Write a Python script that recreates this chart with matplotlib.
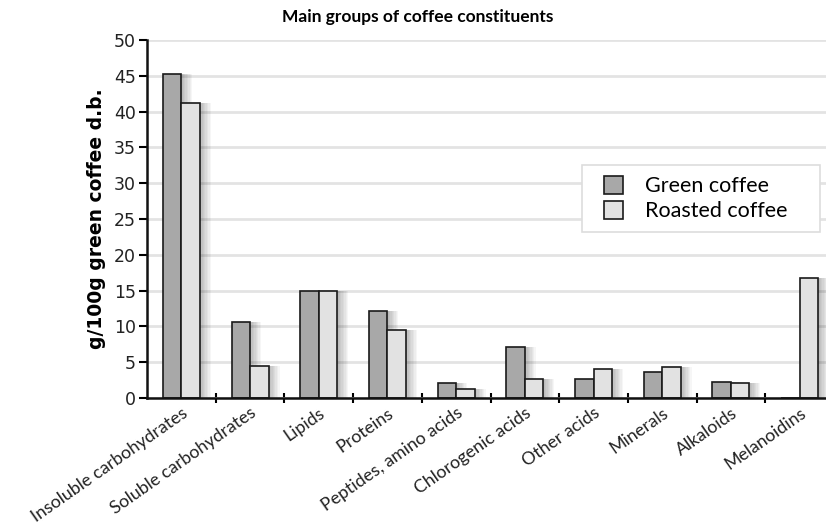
import matplotlib
matplotlib.use("Agg")
import matplotlib.pyplot as plt
from matplotlib.patches import Rectangle
import numpy as np

categories = ["Insoluble carbohydrates", "Soluble carbohydrates", "Lipids", "Proteins",
              "Peptides, amino acids", "Chlorogenic acids", "Other acids", "Minerals",
              "Alkaloids", "Melanoidins"]
green = [45.3, 10.6, 15.0, 12.1, 2.1, 7.1, 2.7, 3.7, 2.3, 0.0]
roasted = [41.2, 4.5, 15.0, 9.5, 1.3, 2.7, 4.0, 4.3, 2.1, 16.7]
yticks = [0, 5, 10, 15, 20, 25, 30, 35, 40, 45, 50]

LATO = ["Lato", "DejaVu Sans"]
plt.rcParams['font.family'] = ["DejaVu Sans"]

fig = plt.figure(figsize=(8.26, 5.26), dpi=100)
ax = fig.add_axes([147/826, 1-398/526, 1-147/826, (398-40)/526])

x = np.arange(len(categories))
w = 0.27
# soft shadows
for k in range(1, 9):
    off = 0.02 * k
    for xs, vals in ((x - w/2, green), (x + w/2, roasted)):
        ax.bar(xs + off, vals, width=w, color="black", alpha=0.035,
               linewidth=0, zorder=1)
ax.bar(x - w/2, green, width=w, color="#a8a8a8", edgecolor="#1a1a1a",
       linewidth=1.2, zorder=3, label="Green coffee")
ax.bar(x + w/2, roasted, width=w, color="#e2e2e2", edgecolor="#1a1a1a",
       linewidth=1.2, zorder=3, label="Roasted coffee")

ax.set_xlim(-0.5, (826-147)/68.7 - 0.5)
ax.set_ylim(0, 50)
ax.set_yticks(yticks)
ax.set_yticklabels([str(v) for v in yticks], fontsize=12.5, color="#222222")
ax.yaxis.grid(True, color="#e3e3e3", linewidth=2, zorder=0)
ax.set_axisbelow(True)

ax.set_xticks(np.arange(len(categories) - 1) + 0.5, minor=False)
ax.set_xticklabels([])
ax.tick_params(axis="x", which="major", direction="inout", length=7, width=1.5)
ax.set_xticks(x, minor=True)
ax.set_xticklabels(categories, minor=True, rotation=35, ha="right",
                   rotation_mode="anchor", fontsize=12.8, color="#222222",
                   family=LATO)
ax.tick_params(axis="x", which="minor", length=0, pad=5)
ax.tick_params(axis="y", direction="out", length=6, width=1.5, pad=2)

for s in ("top", "right"):
    ax.spines[s].set_visible(False)
for s in ("left", "bottom"):
    ax.spines[s].set_linewidth(1.8)
    ax.spines[s].set_color("#111111")
    ax.spines[s].set_zorder(5)

ax.set_ylabel("g/100g green coffee d.b.", fontsize=13.5, fontweight="bold",
              labelpad=6)

fig.text(418/826, 1-17/526, "Main groups of coffee constituents",
         ha="center", va="center", fontsize=12.5, fontweight="bold",
         family=LATO)

# legend frame drawn as a rectangle, entries via legend without frame
frame = Rectangle((582/826, 1-232/526), (820-582)/826, (232-165)/526,
                  transform=fig.transFigure, facecolor="white",
                  edgecolor="#dddddd", linewidth=1.2, zorder=6, clip_on=False)
ax.add_patch(frame)
leg = ax.legend(loc="upper left", bbox_to_anchor=(604/826, 1-176/526),
                bbox_transform=fig.transFigure, frameon=False,
                prop={"family": LATO, "size": 15.5},
                handlelength=0.9, handleheight=0.9, borderpad=0, labelspacing=0.2,
                handletextpad=1.0, borderaxespad=0)
leg.set_zorder(7)

fig.savefig("out.png", dpi=100)
